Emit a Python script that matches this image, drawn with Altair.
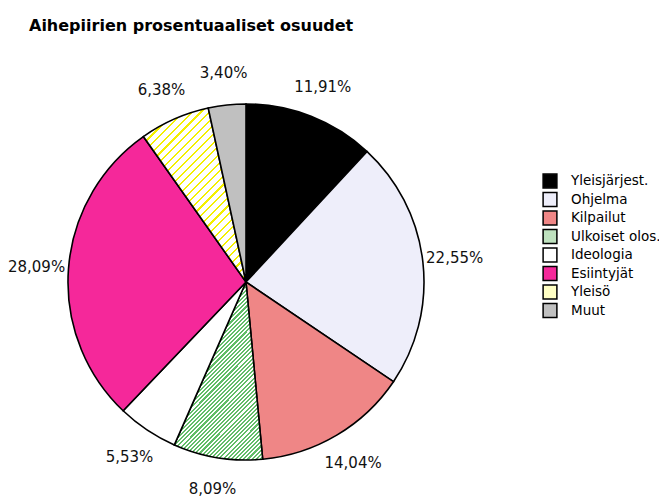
import altair as alt
import pandas as pd

cats = ["Yleisjärjest.", "Ohjelma", "Kilpailut", "Ulkoiset olos.", "Ideologia",
        "Esiintyjät", "Yleisö", "Muut"]
values = [11.91, 22.55, 14.04, 8.09, 5.53, 28.09, 6.38, 3.40]
colors = ["#000000", "#eeeefa", "#ef8686", "#bfe2bf", "#ffffff", "#f5289a", "#ffffc4", "#c0c0c0"]

labels = [f"{v:.2f}".replace(".", ",") + "%" for v in values]
df = pd.DataFrame({"cat": cats, "value": values, "label": labels, "order": list(range(len(cats)))})


def stripes(color, n, frac, x2, y2):
    stops = []
    for i in range(n):
        a = i / n
        b = (i + frac) / n
        c = (i + 1) / n
        stops += [
            {"offset": a, "color": color},
            {"offset": b, "color": color},
            {"offset": b, "color": "#ffffff"},
            {"offset": c, "color": "#ffffff"},
        ]
    return {"gradient": "linear", "x1": 0, "y1": 0, "x2": x2, "y2": y2, "stops": stops}


green_grad = stripes("#62bd68", 64, 0.5, 0.597, 1.200)
yellow_grad = stripes("#f4f000", 32, 0.25, 0.696, 1.179)

FONT = "DejaVu Sans"

base = alt.Chart(df).encode(
    theta=alt.Theta("value:Q", stack=True),
    order=alt.Order("order:Q"),
)

arcs = base.mark_arc(outerRadius=178, stroke="black", strokeWidth=1.6).encode(
    fill=alt.Fill(
        "cat:N",
        sort=cats,
        scale=alt.Scale(domain=cats, range=colors),
        legend=alt.Legend(
            title=None,
            orient="none",
            legendX=534,
            legendY=92,
            symbolType="square",
            symbolSize=190,
            symbolStrokeColor="black",
            symbolStrokeWidth=1.5,
            labelFont=FONT,
            labelFontSize=13.5,
            labelColor="black",
            labelOffset=13,
            labelLimit=200,
            rowPadding=-1.5,
        ),
        condition=[
            {"test": "datum.cat === 'Ulkoiset olos.'", "value": green_grad},
            {"test": "datum.cat === 'Yleisö'", "value": yellow_grad},
        ],
    )
)

text = base.mark_text(radius=210, font=FONT, fontSize=15, color="#111111").encode(
    text="label:N"
)

chart = (
    alt.layer(arcs, text)
    .properties(
        width=476,
        height=402,
        title=alt.TitleParams(
            "Aihepiirien prosentuaaliset osuudet",
            anchor="start",
            frame="group",
            dx=21,
            font=FONT,
            fontSize=16,
            fontWeight="bold",
            color="black",
            offset=32,
        ),
        padding={"left": 0, "top": 73, "right": 175, "bottom": 14},
        autosize=alt.AutoSizeParams(type="none"),
    )
    .configure_view(stroke=None)
)

chart.save("out.html", embed_options={"renderer": "svg", "actions": False})
